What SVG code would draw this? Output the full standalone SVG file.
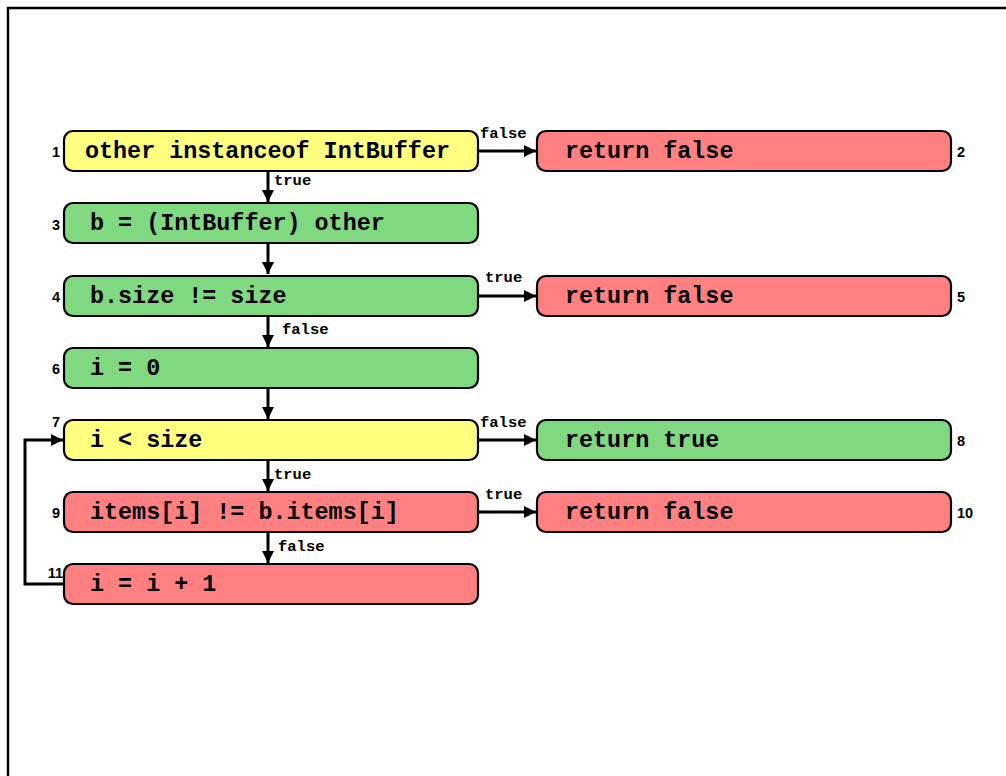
<svg xmlns="http://www.w3.org/2000/svg" width="1006" height="776" viewBox="0 0 1006 776">
  <style>
    .box { stroke: #000; stroke-width: 2.2; }
    .cond { fill: #ffff80; }
    .ok { fill: #80d880; }
    .bad { fill: #ff8080; }
    .code { font-family: "Liberation Mono", "Courier New", monospace; font-weight: bold; font-size: 23.4px; fill: #000; }
    .num { font-family: "Liberation Sans", Arial, sans-serif; font-weight: bold; font-size: 14.5px; fill: #000; }
    .elab { font-family: "Liberation Mono", "Courier New", monospace; font-weight: bold; font-size: 15.5px; fill: #000; }
    .edge { stroke: #000; stroke-width: 3; fill: none; }
  </style>
  <defs>
    <marker id="arrow" viewBox="0 0 10 10" refX="10" refY="5" markerWidth="4" markerHeight="4" markerUnits="strokeWidth" orient="auto">
      <path d="M0,0 L10,5 L0,10 z" fill="#000"/>
    </marker>
  </defs>

  <rect width="1006" height="776" fill="#fff"/>
  <!-- frame -->
  <path d="M8,776 L8,8 L1006,8" fill="none" stroke="#000" stroke-width="2.4"/>

  <!-- connectors -->
  <g id="edges">
    <line class="edge" x1="268" y1="171" x2="268" y2="202" marker-end="url(#arrow)"/>
    <line class="edge" x1="268" y1="243" x2="268" y2="274" marker-end="url(#arrow)"/>
    <line class="edge" x1="268" y1="316" x2="268" y2="347" marker-end="url(#arrow)"/>
    <line class="edge" x1="268" y1="388" x2="268" y2="419" marker-end="url(#arrow)"/>
    <line class="edge" x1="268" y1="460" x2="268" y2="491" marker-end="url(#arrow)"/>
    <line class="edge" x1="268" y1="532" x2="268" y2="563" marker-end="url(#arrow)"/>
    <line class="edge" x1="478" y1="151" x2="536" y2="151" marker-end="url(#arrow)"/>
    <line class="edge" x1="478" y1="296" x2="536" y2="296" marker-end="url(#arrow)"/>
    <line class="edge" x1="478" y1="440" x2="536" y2="440" marker-end="url(#arrow)"/>
    <line class="edge" x1="478" y1="512" x2="536" y2="512" marker-end="url(#arrow)"/>
    <polyline class="edge" points="64,584 25,584 25,440 63,440" stroke-width="2.2" marker-end="url(#arrow)"/>
    <text class="elab" x="274" y="185">true</text>
    <text class="elab" x="282" y="334">false</text>
    <text class="elab" x="274" y="479">true</text>
    <text class="elab" x="278" y="551">false</text>
    <text class="elab" x="480" y="138">false</text>
    <text class="elab" x="485" y="282">true</text>
    <text class="elab" x="480" y="427">false</text>
    <text class="elab" x="485" y="499">true</text>
  </g>

  <g id="n1">
    <rect class="box cond" x="64" y="131" width="414" height="40" rx="9"/>
    <text class="code" x="85" y="158">other instanceof IntBuffer</text>
    <text class="num" x="60" y="157" text-anchor="end">1</text>
  </g>
  <g id="n2">
    <rect class="box bad" x="537" y="131" width="414" height="40" rx="9"/>
    <text class="code" x="565" y="158">return false</text>
    <text class="num" x="957" y="157">2</text>
  </g>
  <g id="n3">
    <rect class="box ok" x="64" y="203" width="414" height="40" rx="9"/>
    <text class="code" x="90" y="230">b = (IntBuffer) other</text>
    <text class="num" x="60" y="230" text-anchor="end">3</text>
  </g>
  <g id="n4">
    <rect class="box ok" x="64" y="276" width="414" height="40" rx="9"/>
    <text class="code" x="90" y="303">b.size != size</text>
    <text class="num" x="60" y="302" text-anchor="end">4</text>
  </g>
  <g id="n5">
    <rect class="box bad" x="537" y="276" width="414" height="40" rx="9"/>
    <text class="code" x="565" y="303">return false</text>
    <text class="num" x="957" y="302">5</text>
  </g>
  <g id="n6">
    <rect class="box ok" x="64" y="348" width="414" height="40" rx="9"/>
    <text class="code" x="90" y="375">i = 0</text>
    <text class="num" x="60" y="374" text-anchor="end">6</text>
  </g>
  <g id="n7">
    <rect class="box cond" x="64" y="420" width="414" height="40" rx="9"/>
    <text class="code" x="90" y="447">i &lt; size</text>
    <text class="num" x="60" y="427" text-anchor="end">7</text>
  </g>
  <g id="n8">
    <rect class="box ok" x="537" y="420" width="414" height="40" rx="9"/>
    <text class="code" x="565" y="447">return true</text>
    <text class="num" x="957" y="446">8</text>
  </g>
  <g id="n9">
    <rect class="box bad" x="64" y="492" width="414" height="40" rx="9"/>
    <text class="code" x="90" y="519">items[i] != b.items[i]</text>
    <text class="num" x="60" y="518" text-anchor="end">9</text>
  </g>
  <g id="n10">
    <rect class="box bad" x="537" y="492" width="414" height="40" rx="9"/>
    <text class="code" x="565" y="519">return false</text>
    <text class="num" x="957" y="518">10</text>
  </g>
  <g id="n11">
    <rect class="box bad" x="64" y="564" width="414" height="40" rx="9"/>
    <text class="code" x="90" y="591">i = i + 1</text>
    <text class="num" x="63" y="578" text-anchor="end">11</text>
  </g>
</svg>
